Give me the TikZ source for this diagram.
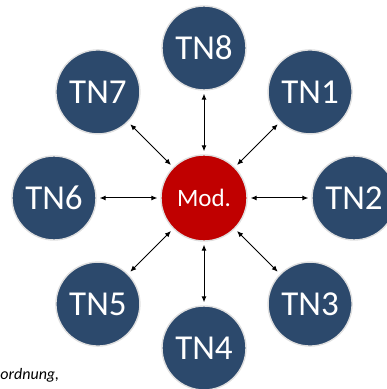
\documentclass[tikz,border=0pt]{standalone}
\usepackage{fontspec}
\setmainfont{Carlito}
\usetikzlibrary{positioning, arrows.meta}
\definecolor{tnblue}{RGB}{44,73,108}
\definecolor{modred}{RGB}{192,0,0}

\begin{document}
\begin{tikzpicture}[x=0.5pt, y=0.5pt, node distance=75pt, on grid,
    >={Latex[length=3pt,width=2.6pt]}, shorten >=1.5pt, shorten <=1.5pt]
                \tikzset{
                    tn/.style={circle, fill=tnblue, draw=black!12, line width=0.7pt,
                        minimum size=42pt, inner sep=0pt, text=white, font=\fontsize{17.5}{19}\selectfont},
                    mod/.style={circle, fill=modred, draw=black!12, line width=0.7pt,
                        minimum size=43pt, inner sep=0pt, text=white, font=\fontsize{12.5}{14}\selectfont}
                }
                \useasboundingbox (-204,-191) rectangle (182,198);

                \node[mod] (mod) at (0,0) {Mod.};

                \node[tn] (tn8) [above=of mod] {TN8};
                \node[tn] (tn1) [above right=of mod] {TN1};
                \node[tn] (tn2) [right=of mod] {TN2};
                \node[tn] (tn3) [below right=of mod] {TN3};
                \node[tn] (tn4) [below=of mod] {TN4};
                \node[tn] (tn5) [below left=of mod] {TN5};
                \node[tn] (tn6) [left=of mod] {TN6};
                \node[tn] (tn7) [above left=of mod] {TN7};

                \path[<->, line width=0.5pt]
                    (mod) edge (tn8)
                    (mod) edge (tn1)
                    (mod) edge (tn2)
                    (mod) edge (tn3)
                    (mod) edge (tn4)
                    (mod) edge (tn5)
                    (mod) edge (tn6)
                    (mod) edge (tn7);

                \node[anchor=west, inner sep=0pt, font=\fontsize{8}{9}\selectfont\itshape] (caption) at (-204,-177) {ordnung,};

            \end{tikzpicture}
\end{document}
